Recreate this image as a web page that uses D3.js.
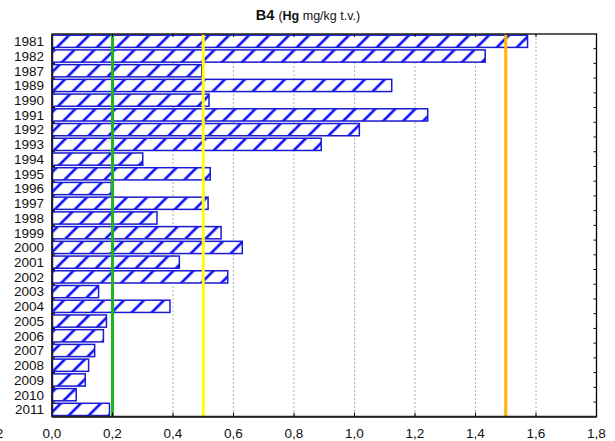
<!DOCTYPE html>
<html><head><meta charset="utf-8">
<script src="https://cdn.jsdelivr.net/npm/d3@7"></script>
<style>body{margin:0;background:#fff}svg{display:block}text{font-family:"Liberation Sans",Arial,sans-serif}</style>
</head><body><svg id="c" width="615" height="441"></svg>
<script>
const years = ["1981","1982","1987","1989","1990","1991","1992","1993","1994","1995","1996","1997","1998","1999","2000","2001","2002","2003","2004","2005","2006","2007","2008","2009","2010","2011"];
const hgValues = [1.572,1.432,0.495,1.123,0.519,1.242,1.016,0.890,0.300,0.523,0.196,0.516,0.347,0.559,0.629,0.421,0.581,0.154,0.390,0.180,0.170,0.141,0.121,0.110,0.080,0.190];
const xTicks = [-0.2,0,0.2,0.4,0.6,0.8,1.0,1.2,1.4,1.6,1.8];
const refLines = [{v:0.2,c:"#1fb51f"},{v:0.5,c:"#ffff00"},{v:1.5,c:"#ffb400"}];

const svg = d3.select("#c");
const L=52, R=596.5, T=34, B=416.7;
const x = d3.scaleLinear().domain([0,1.8]).range([L,R]);
const y = d3.scaleBand().domain(years).range([T,B]).paddingInner(0.17).paddingOuter(0.08);

const defs = svg.append("defs");
const pat = defs.append("pattern").attr("id","hatch").attr("patternUnits","userSpaceOnUse")
  .attr("width",14.14).attr("height",10).attr("patternTransform","rotate(45)");
pat.append("rect").attr("width",14.14).attr("height",10).attr("fill","#fff");
pat.append("line").attr("x1",3).attr("x2",3).attr("y1",0).attr("y2",10).attr("stroke","#0a0aff").attr("stroke-width",2.6);

// gridlines
svg.append("g").selectAll("line").data(xTicks.filter(t=>t>0 && t<1.8)).join("line")
  .attr("x1",d=>x(d)).attr("x2",d=>x(d)).attr("y1",T).attr("y2",B)
  .attr("stroke","#b0b0b0").attr("stroke-width",1).attr("stroke-dasharray","2,2");

// bars
svg.append("g").selectAll("rect").data(years).join("rect")
  .attr("x",x(0)+0.5).attr("y",d=>y(d))
  .attr("width",(d,i)=>x(hgValues[i])-x(0)-0.5).attr("height",y.bandwidth())
  .attr("fill","url(#hatch)").attr("stroke","#1a1ad0").attr("stroke-width",1.5);

// reference lines
svg.append("g").selectAll("line").data(refLines).join("line")
  .attr("x1",d=>x(d.v)).attr("x2",d=>x(d.v)).attr("y1",T).attr("y2",B)
  .attr("stroke",d=>d.c).attr("stroke-width",3);

// frame
svg.append("rect").attr("x",L).attr("y",T).attr("width",R-L).attr("height",B-T)
  .attr("fill","none").attr("stroke","#000").attr("stroke-width",1.3);
svg.append("line").attr("x1",L).attr("x2",R).attr("y1",B).attr("y2",B).attr("stroke","#222").attr("stroke-width",2);
svg.append("line").attr("x1",L).attr("x2",L).attr("y1",T).attr("y2",B).attr("stroke","#222").attr("stroke-width",1.6);

// category boundary ticks left/right
const step = y.step();
const bounds = d3.range(1,years.length).map(i=>y(years[i]) - step*y.paddingInner()/2);
svg.append("g").selectAll("line").data(bounds).join("line")
  .attr("x1",L).attr("x2",L+3).attr("y1",d=>d).attr("y2",d=>d).attr("stroke","#000");
svg.append("g").selectAll("line").data(bounds).join("line")
  .attr("x1",R-3).attr("x2",R).attr("y1",d=>d).attr("y2",d=>d).attr("stroke","#000");

// x ticks top & bottom
const inner = xTicks.filter(t=>t>0 && t<1.8);
svg.append("g").selectAll("line").data(inner).join("line")
  .attr("x1",d=>x(d)).attr("x2",d=>x(d)).attr("y1",T).attr("y2",T+3).attr("stroke","#000");
svg.append("g").selectAll("line").data(inner).join("line")
  .attr("x1",d=>x(d)).attr("x2",d=>x(d)).attr("y1",B-4).attr("y2",B).attr("stroke","#000");

// x tick labels
const fmt = d=>d3.format(".1f")(d).replace("−","-").replace(".",",");
svg.append("g").selectAll("text").data(xTicks).join("text")
  .attr("x",d=>x(d)).attr("y",B+21).attr("text-anchor","middle")
  .attr("font-size",13.5).attr("fill","#111").text(fmt);

// y labels
svg.append("g").selectAll("text").data(years).join("text")
  .attr("x",L-8).attr("y",d=>y(d)+y.bandwidth()/2).attr("dy","0.36em")
  .attr("text-anchor","end").attr("font-size",13.5).attr("fill","#111").text(d=>d);

// title
const t = svg.append("text").attr("x",308).attr("y",20).attr("text-anchor","middle").attr("fill","#111");
t.append("tspan").attr("font-size",14.5).attr("font-weight","bold").text("B4 ");
t.append("tspan").attr("font-size",12.5).text("(");
t.append("tspan").attr("font-size",12.5).attr("font-weight","bold").text("Hg");
t.append("tspan").attr("font-size",12.5).text(" mg/kg t.v.)");
</script></body></html>
